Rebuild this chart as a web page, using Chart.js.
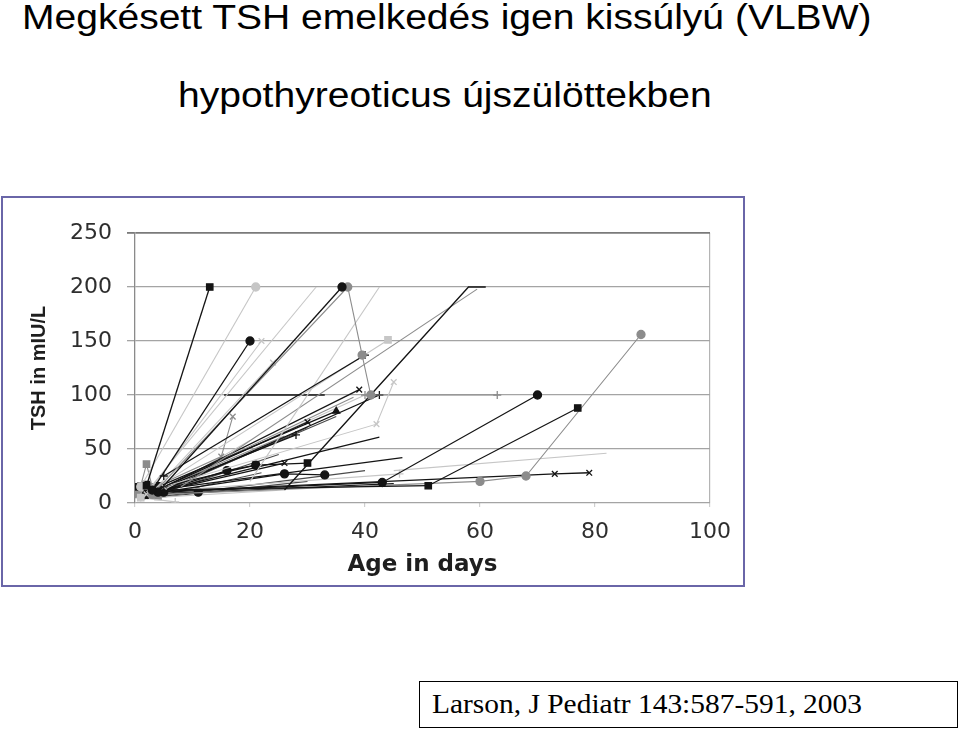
<!DOCTYPE html>
<html>
<head>
<meta charset="utf-8">
<script src="https://cdn.jsdelivr.net/npm/chart.js"></script>
<style>
  html, body { margin: 0; padding: 0; background: #fff; }
  body { width: 960px; height: 730px; position: relative; overflow: hidden; }
  .title { position: absolute; font-family: "Liberation Sans", Arial, sans-serif; font-size: 35px; line-height: 35px; color: #000;
           white-space: nowrap; transform: scaleX(1.115); transform-origin: 0 0; }
  #t1 { left: 22px; top: -1px; }
  #t2 { left: 178px; top: 77px; }
  #frame { position: absolute; left: 1px; top: 196px; width: 740px; height: 387px; border: 2px solid #6a66a8; background: #fff; }
  #chart { position: absolute; left: 0; top: 0; }
  #cite { position: absolute; left: 419px; top: 681px; width: 537px; height: 45px; border: 1.5px solid #000; }
  #cite span { position: absolute; left: 12px; top: 0; font-family: "Liberation Serif", "Times New Roman", serif; font-size: 27px;
               line-height: 45px; white-space: nowrap; transform: scaleX(1.09); transform-origin: 0 0; }
</style>
</head>
<body>
<div class="title" id="t1">Megkésett TSH emelkedés igen kissúlyú (VLBW)</div>
<div class="title" id="t2">hypothyreoticus újszülöttekben</div>
<div id="frame"><canvas id="chart" width="740" height="387"></canvas></div>
<div id="cite"><span>Larson, J Pediatr 143:587-591, 2003</span></div>
<script>
// TSH (mIU/L) by age (days), one track per infant: [day, TSH]
const tracks = [
    [[2, 16], [13, 200]],
    [[3, 12], [20, 150]],
    [[4, 10], [36, 200]],
    [[3, 8], [37, 200], [39.5, 137], [41, 100]],
    [[5, 25], [40, 137]],
    [[1, 15], [21, 200]],
    [[2, 10], [31.5, 200]],
    [[20, 20], [42.5, 200]],
    [[26, 12], [58, 200], [61, 200]],
    [[8, 15], [59.5, 198]],
    [[1, 5], [44, 151]],
    [[2, 8], [22, 150]],
    [[3, 10], [24, 130]],
    [[4, 12], [39, 105]],
    [[5, 15], [42, 73], [45, 112]],
    [[15.5, 100], [33, 100]],
    [[40, 100], [63, 100]],
    [[5, 10], [43, 19], [70, 100]],
    [[3, 12], [51, 16], [77, 88]],
    [[4, 8], [60, 20], [68, 25], [88, 156]],
    [[45, 30], [82, 46]],
    [[2, 10], [73, 27], [79, 28]],
    [[4, 15], [35, 85]],
    [[3, 10], [30, 75]],
    [[3, 10], [28, 63]],
    [[3, 14], [15, 43], [17, 80]],
    [[5, 12], [20, 58]],
    [[5, 12], [42.5, 61]],
    [[8, 15], [46.5, 42]],
    [[4, 14], [21, 35], [30, 37]],
    [[4, 10], [26, 37]],
    [[4, 10], [16, 30], [21, 35]],
    [[2, 8], [26, 27], [33, 26]],
    [[2, 10], [46, 27]],
    [[2, 8], [11, 10]],
    [[1, 16], [2, 36], [3, 15]],
    [[3, 5], [26, 12]],
    [[6, 14], [42.5, 100]],
    [[5, 15], [40, 100]],
    [[4, 12], [38, 98]],
    [[3, 10], [26, 62]],
    [[1, 5], [7, 1]],
    [[0.5, 15], [2, 17], [4, 16]],
    [[3, 6], [30, 70]],
    [[2, 5], [35, 80]],
    [[4, 8], [25, 45]],
    [[3, 5], [40, 30]],
    [[2, 4], [30, 20]],
    [[3, 8], [45, 18]],
    [[1, 3], [22, 28]],
    [[0.5, 8], [2, 9], [4, 6]],
    [[1, 12], [3, 14], [5, 12]]
];

const xTicks = [0, 20, 40, 60, 80, 100];
const yTicks = [0, 50, 100, 150, 200, 250];

// grey level and marker of each track
const trackShade = ['k','k','k','m','k','l','l','l','k','m','l','l','l','k','l','k','m','k','k','m',
                    'l','k','k','k','k','m','l','k','k','k','k','k','k','l','k','m','l','k','l','m',
                    'm','l','k','d','d','d','d','d','k','d','m','l'];
const trackMarker = ['rect','circle','circle','circle','cross','circle','line','line','line','line',
                     'rect','crossRot','crossRot','crossRot','crossRot','line','cross','circle','rect','circle',
                     'line','crossRot','triangle','crossRot','cross','crossRot','line','line','line','rect',
                     'crossRot','circle','circle','cross','circle','rect','line','cross','line','line',
                     'line','cross','rect','line','line','line','line','line','line','line','rect','rect'];

const shades = { k: '#141414', d: '#4a4a4a', m: '#8c8c8c', l: '#c6c6c6' };

const datasets = tracks.map((pts, i) => {
    const c = shades[trackShade[i]];
    const mk = trackMarker[i];
    return {
        data: pts.map(p => ({ x: p[0], y: p[1] })),
        borderColor: c,
        backgroundColor: c,
        borderWidth: trackShade[i] === 'k' ? 1.3 : 1.1,
        pointStyle: mk,
        pointRadius: mk === 'line' ? 0 : (mk === 'rect' ? 4.5 : 4),
        pointBorderColor: c,
        pointBackgroundColor: c,
        pointBorderWidth: 1.3,
        showLine: true,
        tension: 0
    };
});

new Chart(document.getElementById('chart'), {
    type: 'scatter',
    data: { datasets: datasets },
    options: {
        responsive: false,
        animation: false,
        devicePixelRatio: 1,
        layout: { padding: { left: 0, top: 35, right: 32, bottom: 0 } },
        plugins: { legend: { display: false }, tooltip: { enabled: false } },
        scales: {
            x: {
                type: 'linear',
                min: 0, max: 100,
                afterBuildTicks: s => { s.ticks = xTicks.map(v => ({ value: v })); },
                afterFit: s => { s.height = 82; },
                border: { display: false },
                grid: {
                    color: ctx => ctx.tick && ctx.tick.value === 100 ? '#b4b4b4' : 'rgba(0,0,0,0)',
                    tickColor: '#cfcfcf',
                    tickLength: 4,
                    lineWidth: 1.2
                },
                ticks: { padding: 12, color: '#2e2e2e', font: { family: 'DejaVu Sans', size: 22 } },
                title: {
                    display: true, text: 'Age in days', color: '#1e1e1e',
                    font: { family: 'DejaVu Sans', size: 23, weight: 'bold' },
                    padding: { top: 0, bottom: 6 }
                }
            },
            y: {
                min: 0, max: 250,
                afterBuildTicks: s => { s.ticks = yTicks.map(v => ({ value: v })); },
                afterFit: s => { s.width = 132; },
                border: { color: '#8a8a8a', width: 1.3 },
                grid: {
                    color: ctx => ctx.tick && ctx.tick.value === 250 ? '#7a7a7a' : '#a4a4a4',
                    lineWidth: ctx => ctx.tick && ctx.tick.value === 250 ? 1.8 : 1.3,
                    tickLength: 8
                },
                ticks: { padding: 15, color: '#2e2e2e', font: { family: 'DejaVu Sans', size: 22 } },
                title: {
                    display: true, text: 'TSH in mIU/L', color: '#1e1e1e',
                    font: { family: 'Liberation Sans', size: 20, weight: 'bold' },
                    padding: { top: 24, bottom: 0 }
                }
            }
        }
    }
});
</script>
</body>
</html>
